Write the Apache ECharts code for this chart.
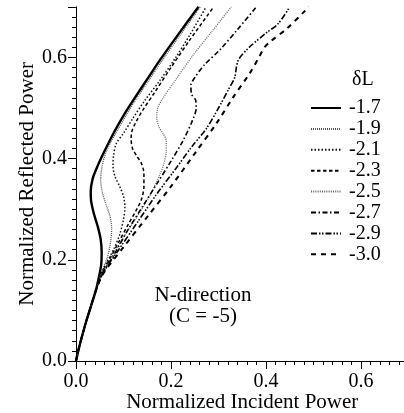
<!DOCTYPE html>
<html>
<head>
<meta charset="utf-8">
<title>N-direction</title>
<script src="https://cdn.jsdelivr.net/npm/echarts@6/dist/echarts.min.js"></script>
<style>
  html, body { margin: 0; padding: 0; background: #fff; }
  #chart1 { width: 404px; height: 413px; }
</style>
</head>
<body>
<div id="chart1"></div>
<script type="text/javascript">
    // common start of every curve, near the origin
    var trunk = [[0, 0], [0.006, 0.025], [0.013, 0.05], [0.022, 0.08], [0.032, 0.11], [0.042, 0.14]];

    var dL17 = [[0.048, 0.165], [0.053, 0.19], [0.054, 0.215], [0.052, 0.24], [0.046, 0.265], [0.038, 0.29], [0.032, 0.315], [0.031, 0.335], [0.035, 0.36], [0.043, 0.38], [0.055, 0.405], [0.079, 0.45], [0.1, 0.485], [0.121, 0.516], [0.15, 0.557], [0.177, 0.595], [0.215, 0.645], [0.258, 0.7]];
    var dL19 = [[0.05, 0.165], [0.058, 0.185], [0.066, 0.205], [0.072, 0.23], [0.075, 0.26], [0.072, 0.285], [0.063, 0.31], [0.055, 0.335], [0.052, 0.36], [0.055, 0.385], [0.062, 0.41], [0.072, 0.43], [0.085, 0.452], [0.105, 0.485], [0.127, 0.518], [0.155, 0.557], [0.18, 0.592], [0.22, 0.645], [0.262, 0.7]];
    var dL21 = [[0.052, 0.17], [0.065, 0.195], [0.079, 0.22], [0.092, 0.25], [0.1, 0.28], [0.103, 0.305], [0.1, 0.325], [0.092, 0.345], [0.082, 0.365], [0.078, 0.385], [0.079, 0.405], [0.085, 0.43], [0.1, 0.45], [0.12, 0.48], [0.145, 0.515], [0.177, 0.555], [0.21, 0.6], [0.24, 0.645], [0.274, 0.7]];
    var dL23 = [[0.053, 0.172], [0.07, 0.2], [0.09, 0.235], [0.11, 0.27], [0.128, 0.3], [0.138, 0.32], [0.143, 0.345], [0.143, 0.37], [0.138, 0.39], [0.128, 0.405], [0.119, 0.42], [0.116, 0.44], [0.118, 0.455], [0.125, 0.47], [0.14, 0.495], [0.165, 0.53], [0.2, 0.58], [0.24, 0.635], [0.29, 0.7]];
    var dL25 = [[0.054, 0.172], [0.075, 0.205], [0.1, 0.245], [0.125, 0.28], [0.145, 0.31], [0.16, 0.335], [0.175, 0.365], [0.185, 0.39], [0.19, 0.415], [0.19, 0.435], [0.183, 0.45], [0.175, 0.462], [0.17, 0.48], [0.172, 0.5], [0.18, 0.515], [0.21, 0.556], [0.247, 0.605], [0.285, 0.65], [0.327, 0.7]];
    var dL27 = [[0.055, 0.172], [0.08, 0.21], [0.11, 0.26], [0.14, 0.305], [0.17, 0.35], [0.2, 0.395], [0.225, 0.435], [0.245, 0.475], [0.253, 0.5], [0.252, 0.515], [0.243, 0.528], [0.242, 0.545], [0.25, 0.56], [0.27, 0.585], [0.303, 0.615], [0.34, 0.655], [0.38, 0.7]];
    var dL29 = [[0.056, 0.172], [0.09, 0.22], [0.13, 0.275], [0.17, 0.33], [0.21, 0.38], [0.245, 0.425], [0.275, 0.46], [0.3, 0.5], [0.32, 0.535], [0.334, 0.56], [0.338, 0.582], [0.343, 0.597], [0.366, 0.621], [0.4, 0.648], [0.426, 0.667], [0.45, 0.7]];
    var dL30 = [[0.057, 0.172], [0.1, 0.225], [0.15, 0.285], [0.2, 0.345], [0.25, 0.41], [0.296, 0.47], [0.33, 0.52], [0.366, 0.569], [0.385, 0.6], [0.397, 0.62], [0.41, 0.632], [0.444, 0.657], [0.48, 0.69], [0.49, 0.7]];

    var names = ['-1.7', '-1.9', '-2.1', '-2.3', '-2.5', '-2.7', '-2.9', '-3.0'];
    var curves = [dL17, dL19, dL21, dL23, dL25, dL27, dL29, dL30];

    // line looks for each curve
    var styles = [
        { color: '#000', width: 2.4, type: 'solid' },
        { color: '#555', width: 1.3, type: [1, 1] },
        { color: '#111', width: 1.5, type: [1.5, 2] },
        { color: '#000', width: 1.5, type: [3.5, 2.5] },
        { color: '#666', width: 1.3, type: [1, 1.2] },
        { color: '#000', width: 1.6, type: [5, 2.5, 1.5, 2.5] },
        { color: '#000', width: 1.6, type: [6, 2, 1.5, 1.5, 1.5, 2] },
        { color: '#000', width: 2, type: [5, 5] }
    ];

    var serif = "'Liberation Serif', 'Times New Roman', serif";

    var myChart = echarts.init(document.getElementById('chart1'));

    var series = [];
    for (var i = 0; i < curves.length; i++) {
        series.push({
            name: names[i],
            type: 'line',
            data: trunk.concat(curves[i]),
            smooth: 0.3,
            showSymbol: false,
            symbol: 'none',
            lineStyle: styles[i],
            itemStyle: { color: styles[i].color },
            silent: true
        });
    }

    var tickStyle = { color: '#000', width: 1 };

    var option = {
        animation: false,
        backgroundColor: '#fff',
        grid: { left: 76, top: 6.8, width: 332.5, height: 354.2, outerBoundsMode: 'none', containLabel: false },
        legend: {
            orient: 'vertical',
            left: 305,
            top: 93,
            itemWidth: 30,
            itemHeight: 14,
            itemGap: 0.9,
            data: names,
            itemStyle: { opacity: 0 },
            textStyle: { fontFamily: serif, fontSize: 20, color: '#000', padding: [0, 0, 0, 3] }
        },
        xAxis: {
            type: 'value',
            min: 0,
            max: 0.7,
            interval: 0.2,
            name: 'Normalized Incident Power',
            nameLocation: 'middle',
            nameGap: 31,
            nameMoveOverlap: false,
            nameTextStyle: { fontFamily: serif, fontSize: 21, color: '#000' },
            axisLine: { show: true, lineStyle: tickStyle },
            axisTick: { show: true, inside: false, length: 8, lineStyle: tickStyle },
            minorTick: { show: true, splitNumber: 10, length: 4, lineStyle: tickStyle },
            splitLine: { show: false },
            minorSplitLine: { show: false },
            axisLabel: {
                fontFamily: serif, fontSize: 20, color: '#000', margin: 11,
                showMaxLabel: false,
                formatter: function (v) { return v.toFixed(1); }
            }
        },
        yAxis: {
            type: 'value',
            min: 0,
            max: 0.7,
            interval: 0.2,
            name: 'Normalized Reflected Power',
            nameLocation: 'middle',
            nameGap: 38,
            nameMoveOverlap: false,
            nameTextStyle: { fontFamily: serif, fontSize: 21, color: '#000' },
            axisLine: { show: true, lineStyle: tickStyle },
            axisTick: { show: true, inside: false, length: 8, lineStyle: tickStyle },
            minorTick: { show: true, splitNumber: 10, length: 4, lineStyle: tickStyle },
            splitLine: { show: false },
            minorSplitLine: { show: false },
            axisLabel: {
                fontFamily: serif, fontSize: 20, color: '#000', margin: 9,
                showMaxLabel: false,
                formatter: function (v) { return v.toFixed(1); }
            }
        },
        graphic: [
            { type: 'text', left: 352, top: 70, style: { text: 'δL', font: '20px ' + serif, fill: '#000' } },
            { type: 'text', x: 203, y: 295, style: { text: 'N-direction', font: '21px ' + serif, fill: '#000', align: 'center', verticalAlign: 'middle' } },
            { type: 'text', x: 203, y: 316, style: { text: '(C = -5)', font: '21px ' + serif, fill: '#000', align: 'center', verticalAlign: 'middle' } }
        ],
        series: series
    };
    myChart.setOption(option);
</script>
</body>
</html>
